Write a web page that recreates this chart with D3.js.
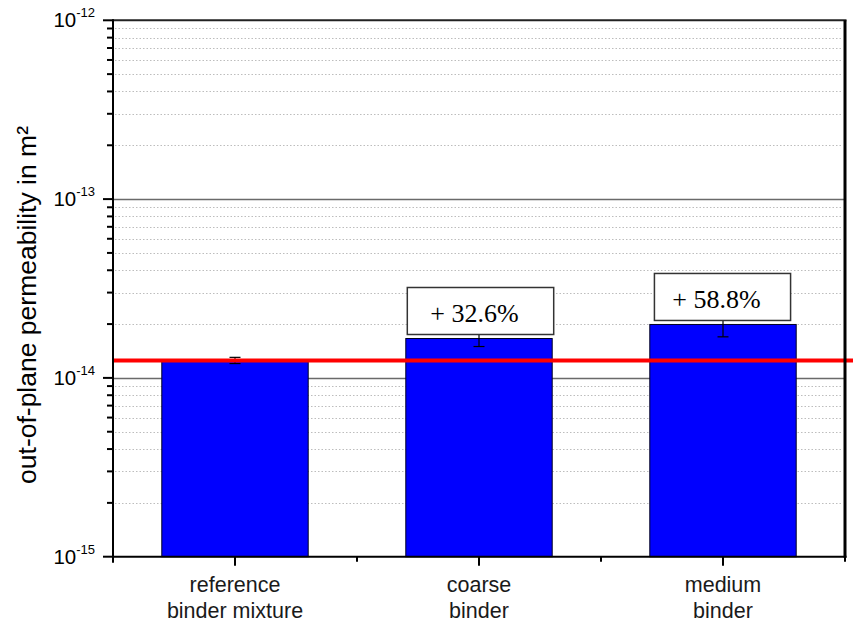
<!DOCTYPE html>
<html>
<head>
<meta charset="utf-8">
<script src="https://cdn.jsdelivr.net/npm/d3@7"></script>
<style>
  html, body { margin: 0; padding: 0; background: #fff; }
  svg { display: block; }
</style>
</head>
<body>
<svg id="chart" width="853" height="622"></svg>
<script>
// Out-of-plane permeability per binder type (m²)
const categories = ["reference binder mixture", "coarse binder", "medium binder"];
const categoryLines = [["reference", "binder mixture"], ["coarse", "binder"], ["medium", "binder"]];
const permeability = [1.253e-14, 1.661e-14, 1.990e-14];
const permeabilityErr = [0.05e-14, 0.163e-14, 0.293e-14];
const increaseLabels = ["", "+ 32.6%", "+ 58.8%"];
const referenceLevel = 1.253e-14;
const yTickExponents = [-15, -14, -13, -12];
const yTitle = "out-of-plane permeability in m²";

const W = 853, H = 622;
const margin = { left: 113, right: 8, top: 20.3, bottom: 65.3 };
const x0 = margin.left, x1 = W - margin.right;
const y0 = H - margin.bottom, y1 = margin.top;

const svg = d3.select("#chart");

const x = d3.scaleBand().domain(categories).range([x0, x1]).paddingInner(0.4).paddingOuter(0.2);
const y = d3.scaleLog().domain([1e-15, 1e-12]).range([y0, y1]);

// minor (2..9) and major decade values
const minorVals = [];
for (let e = -15; e < -12; e++) for (let m = 2; m <= 9; m++) minorVals.push(m * Math.pow(10, e));
const majorVals = yTickExponents.map(e => Math.pow(10, e));

// grid
const grid = svg.append("g");
grid.selectAll("line.minor").data(minorVals).join("line")
  .attr("x1", x0 + 2).attr("x2", x1 - 2)
  .attr("y1", d => Math.round(y(d)) + 0.5).attr("y2", d => Math.round(y(d)) + 0.5)
  .attr("stroke", "#bdbdbd").attr("stroke-width", 1).attr("stroke-dasharray", "1.5,2");
grid.selectAll("line.major").data(majorVals.slice(1, -1)).join("line")
  .attr("x1", x0).attr("x2", x1)
  .attr("y1", d => Math.round(y(d)) + 0.5).attr("y2", d => Math.round(y(d)) + 0.5)
  .attr("stroke", "#6a6a6a").attr("stroke-width", 1.3);

// bars
svg.append("g").selectAll("rect").data(categories).join("rect")
  .attr("x", d => x(d))
  .attr("width", x.bandwidth())
  .attr("y", (d, i) => y(permeability[i]))
  .attr("height", (d, i) => y0 - y(permeability[i]))
  .attr("fill", "#0000ff")
  .attr("stroke", "#000022").attr("stroke-width", 1);

// error bars
const eb = svg.append("g").attr("stroke", "#000").attr("stroke-width", 1.2);
categories.forEach((c, i) => {
  const cx = x(c) + x.bandwidth() / 2;
  const lo = y(permeability[i] - permeabilityErr[i]);
  const hi = y(permeability[i] + permeabilityErr[i]);
  eb.append("line").attr("x1", cx).attr("x2", cx).attr("y1", lo).attr("y2", hi);
  eb.append("line").attr("x1", cx - 5.5).attr("x2", cx + 5.5).attr("y1", lo).attr("y2", lo);
  eb.append("line").attr("x1", cx - 5.5).attr("x2", cx + 5.5).attr("y1", hi).attr("y2", hi);
});

// reference level line
svg.append("line")
  .attr("x1", x0).attr("x2", W)
  .attr("y1", y(referenceLevel)).attr("y2", y(referenceLevel))
  .attr("stroke", "#ff0000").attr("stroke-width", 4);

// percentage boxes above bars
const boxScale = [1, 1.0, 0.93];
const ann = svg.append("g");
categories.forEach((c, i) => {
  if (!increaseLabels[i]) return;
  const bw = x.bandwidth() * boxScale[i];
  const cx = x(c) + x.bandwidth() / 2 + (i === 1 ? 1.5 : -0.5);
  const bottom = y(permeability[i]) - 4;
  const h = 47;
  ann.append("rect")
    .attr("x", cx - bw / 2).attr("y", bottom - h)
    .attr("width", bw).attr("height", h)
    .attr("fill", "#fff").attr("stroke", "#333").attr("stroke-width", 1.5);
  ann.append("text")
    .attr("x", cx - 6).attr("y", bottom - h + 34.5)
    .attr("text-anchor", "middle")
    .attr("font-family", "'Liberation Serif', 'Times New Roman', serif")
    .attr("font-size", 26)
    .attr("fill", "#000")
    .text(increaseLabels[i]);
});

// frame
const frame = svg.append("g").attr("fill", "none");
frame.append("line").attr("x1", x0).attr("x2", x1 + 1.5).attr("y1", y1).attr("y2", y1)
  .attr("stroke", "#222").attr("stroke-width", 2);
frame.append("line").attr("x1", x1).attr("x2", x1).attr("y1", y1).attr("y2", y0 + 1)
  .attr("stroke", "#000").attr("stroke-width", 3);

// y axis
const yAxis = svg.append("g");
yAxis.append("line").attr("x1", x0).attr("x2", x0).attr("y1", y1 - 1).attr("y2", y0 + 6)
  .attr("stroke", "#000").attr("stroke-width", 2);
yAxis.selectAll("line.mt").data(minorVals).join("line")
  .attr("x1", x0 - 6).attr("x2", x0)
  .attr("y1", d => y(d)).attr("y2", d => y(d))
  .attr("stroke", "#000").attr("stroke-width", 2);
yAxis.selectAll("line.Mt").data(majorVals).join("line")
  .attr("x1", x0 - 10).attr("x2", x0)
  .attr("y1", d => y(d)).attr("y2", d => y(d))
  .attr("stroke", "#000").attr("stroke-width", 2);
const yLab = yAxis.selectAll("text").data(yTickExponents).join("text")
  .attr("x", x0 - 18)
  .attr("y", d => y(Math.pow(10, d)) + 7)
  .attr("text-anchor", "end")
  .attr("font-family", "'Liberation Sans', Arial, sans-serif")
  .attr("font-size", 20.5)
  .attr("fill", "#000");
yLab.append("tspan").text("10");
yLab.append("tspan").attr("font-size", 13).attr("dy", -10).text(d => String(d));

// x axis
const xAxis = svg.append("g");
xAxis.append("line").attr("x1", x0 - 1).attr("x2", x1 + 1.5).attr("y1", y0).attr("y2", y0)
  .attr("stroke", "#000").attr("stroke-width", 2);
const step = x.step();
// band boundaries carry the short ticks
const bounds = d3.range(0, categories.length + 1).map(k => x0 + k * (x1 - x0) / categories.length);
xAxis.selectAll("line.mt").data(bounds).join("line")
  .attr("x1", d => d).attr("x2", d => d)
  .attr("y1", y0).attr("y2", y0 + 5)
  .attr("stroke", "#000").attr("stroke-width", 2);
xAxis.selectAll("line.Mt").data(categories).join("line")
  .attr("x1", d => x(d) + x.bandwidth() / 2).attr("x2", d => x(d) + x.bandwidth() / 2)
  .attr("y1", y0).attr("y2", y0 + 9)
  .attr("stroke", "#000").attr("stroke-width", 2);
const xt = xAxis.selectAll("text").data(categories).join("text")
  .attr("text-anchor", "middle")
  .attr("font-family", "'Liberation Sans', Arial, sans-serif")
  .attr("font-size", 21.5)
  .attr("fill", "#1a1a1a");
xt.each(function (d, i) {
  const cx = x(d) + x.bandwidth() / 2;
  categoryLines[i].forEach((line, k) => {
    d3.select(this).append("tspan").attr("x", cx).attr("y", 592 + k * 25.5).text(line);
  });
});

// y title
svg.append("text")
  .attr("transform", "translate(36,305) rotate(-90)")
  .attr("text-anchor", "middle")
  .attr("font-family", "'Liberation Sans', Arial, sans-serif")
  .attr("font-size", 26.5)
  .attr("fill", "#000")
  .text(yTitle);
</script>
</body>
</html>
